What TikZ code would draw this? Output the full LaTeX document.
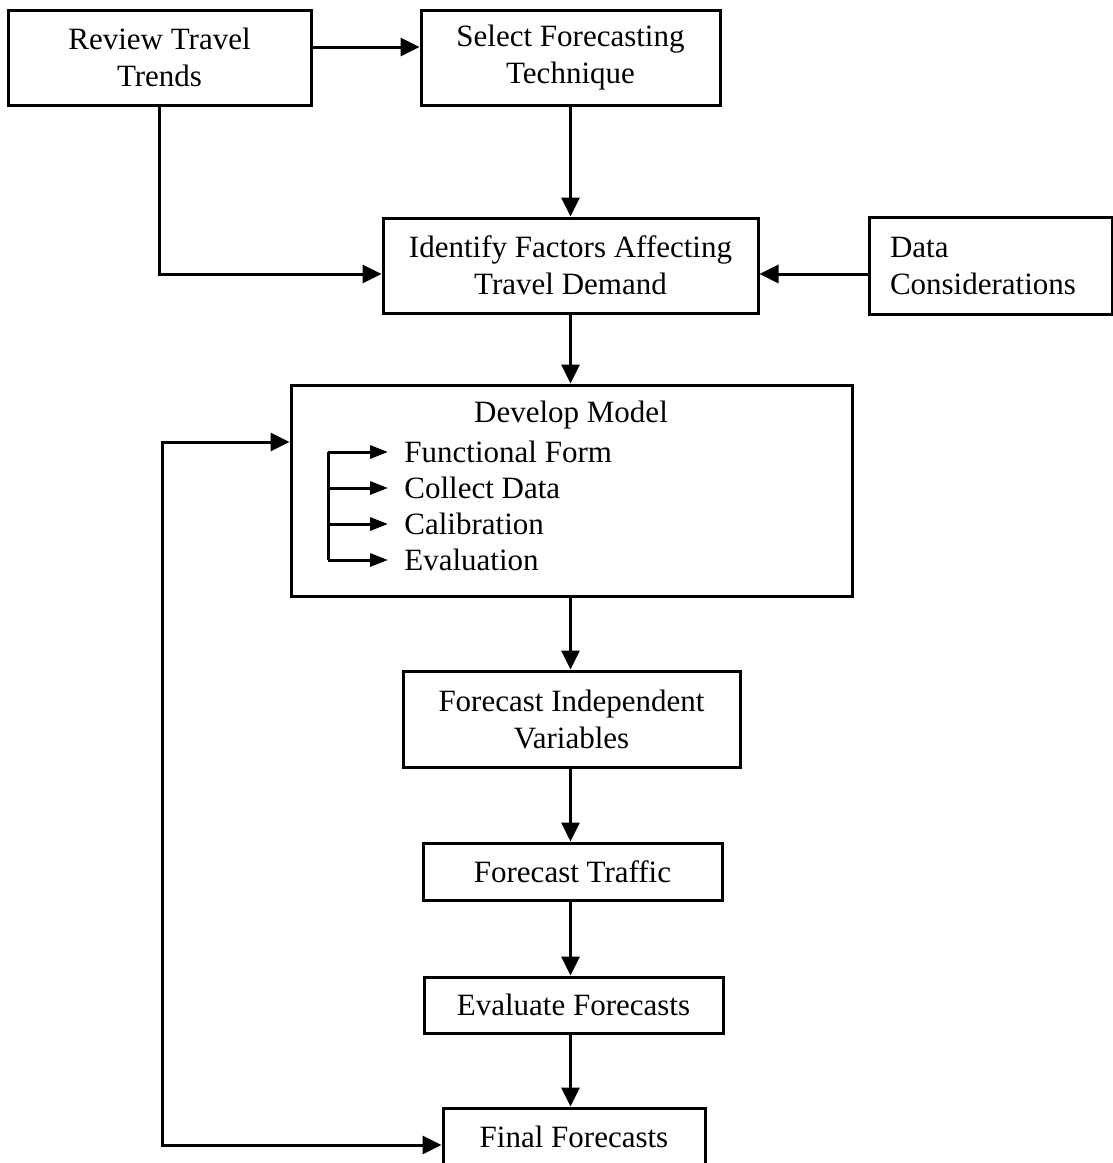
\documentclass[tikz,border=0pt]{standalone}
\usepackage{fontspec}
\setmainfont{Liberation Serif}
\usetikzlibrary{arrows.meta}
\begin{document}
\begin{tikzpicture}[x=0.5pt,y=-0.5pt,
  txt/.style={font=\fontsize{15.5}{18.5}\selectfont},
  box/.style={draw, line width=1.5pt, align=center, inner sep=0pt, txt},
  arr/.style={-{Triangle[length=9.5pt,width=9pt]}, line width=1.5pt},
  arrs/.style={-{Triangle[length=9pt,width=6.5pt]}, line width=1.5pt},
  arr2/.style={{Triangle[length=9.5pt,width=9pt]}-{Triangle[length=9.5pt,width=9pt]}, line width=1.5pt},
  item/.style={anchor=west, inner sep=0pt, txt}]
\useasboundingbox (0,0) rectangle (1113,1163);
\clip (0,0) rectangle (1113,1163);
\node[box, minimum width=151.5pt, minimum height=47.5pt] (RTT) at (159.5,57.5) {Review Travel\\Trends};
\node[box, minimum width=149.5pt, minimum height=47.5pt] (SFT) at (570.5,57.5) {Select Forecasting\\Technique};
\node[box, minimum width=187.5pt, minimum height=47.5pt] (IFA) at (570.5,265.5) {Identify Factors Affecting\\Travel Demand};
\node[box, align=left, text width=100.5pt, inner xsep=10.5pt, minimum height=48.5pt] (DC) at (990.5,265.5) {Data\\Considerations};
\node[box, minimum width=280.5pt, minimum height=105.5pt] (DM) at (571.5,490.5) {};
\node[txt, inner sep=0pt] (DMt) at (571,415) {Develop Model};
\node[item] (i1) at (404,452) {Functional Form};
\node[item] (i2) at (404,488) {Collect Data};
\node[item] (i3) at (404,524) {Calibration};
\node[item] (i4) at (404,560) {Evaluation};
\node[box, minimum width=168.5pt, minimum height=48pt] (FIV) at (571.5,719) {Forecast Independent\\Variables};
\node[box, minimum width=149.5pt, minimum height=28.5pt] (FT) at (572.5,871.5) {Forecast Traffic};
\node[box, minimum width=149.5pt, minimum height=28pt] (EF) at (573.5,1005) {Evaluate Forecasts};
\node[box, minimum width=131pt, minimum height=29pt] (FF) at (574,1137) {Final Forecasts};
\coordinate (y47) at (0,47);
\coordinate (y274) at (0,274);
\coordinate (loopB) at (162,1145);
\coordinate (loopT) at (162,442);
\coordinate (b1) at (328,452);
\coordinate (b2) at (328,488);
\coordinate (b3) at (328,524);
\coordinate (b4) at (328,560);
\draw[arr] (RTT.east |- y47) -- (SFT.west |- y47);
\draw[arr] (SFT.south) -- (IFA.north);
\draw[arr] (RTT.south) -- (RTT.south |- y274) -- (IFA.west |- y274);
\draw[arr] (DC.west |- y274) -- (IFA.east |- y274);
\draw[arr] (IFA.south) -- (IFA.south |- DM.north);
\draw[arr] (IFA.south |- DM.south) -- (IFA.south |- FIV.north);
\draw[arr] (IFA.south |- FIV.south) -- (IFA.south |- FT.north);
\draw[arr] (IFA.south |- FT.south) -- (IFA.south |- EF.north);
\draw[arr] (IFA.south |- EF.south) -- (IFA.south |- FF.north);
\draw[arr2] (FF.west |- loopB) -- (loopB) -- (loopT) -- (DM.west |- loopT);
\draw[line width=1.5pt] (b1) -- (b4);
\draw[arrs, shorten >=8pt] (b1) -- (i1.west);
\draw[arrs, shorten >=8pt] (b2) -- (i2.west);
\draw[arrs, shorten >=8pt] (b3) -- (i3.west);
\draw[arrs, shorten >=8pt] (b4) -- (i4.west);
\end{tikzpicture}
\end{document}
